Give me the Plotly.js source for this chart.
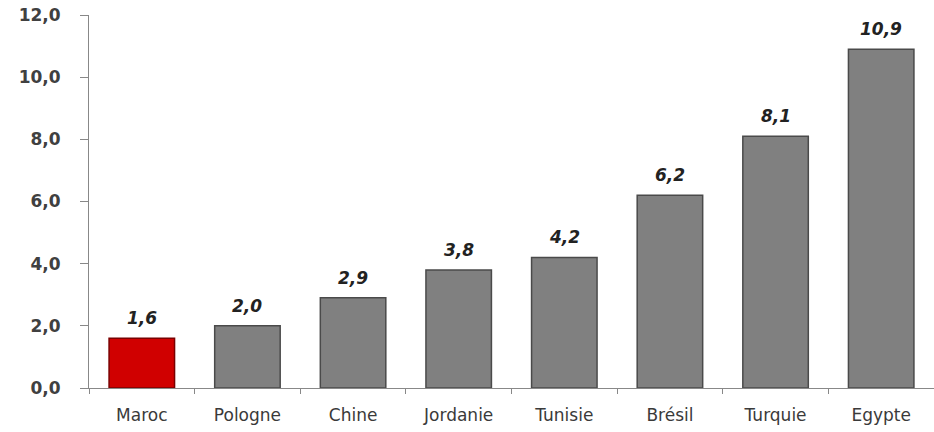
<!DOCTYPE html>
<html><head><meta charset="utf-8">
<script src="https://cdn.plot.ly/plotly-3.0.1.min.js"></script>
<style>body{margin:0;background:#fff}#c{width:934px;height:432px}</style>
</head><body><div id="c"></div>
<script>
const categories = ["Maroc","Pologne","Chine","Jordanie","Tunisie","Brésil","Turquie","Egypte"];
const values = [1.6, 2.0, 2.9, 3.8, 4.2, 6.2, 8.1, 10.9];
const labels = ["1,6","2,0","2,9","3,8","4,2","6,2","8,1","10,9"];
const yTickVals = [0,2,4,6,8,10,12];
const yTickText = ["0,0","2,0","4,0","6,0","8,0","10,0","12,0"];

const fill = categories.map((c,i)=> i===0 ? "#d00000" : "#808080");
const line = categories.map((c,i)=> i===0 ? "#7a0000" : "#4a4a4a");

const trace = {
  type: "bar", x: categories, y: values,
  marker: {color: fill, line: {color: line, width: 1.5}},
  hoverinfo: "none"
};
const annotations = categories.map((c,i)=>({
  x: c, y: values[i], xref: "x", yref: "y",
  text: "<b><i>" + labels[i] + "</i></b>",
  showarrow: false, yanchor: "bottom", yshift: 8,
  font: {family: "DejaVu Sans, Liberation Sans", size: 17, color: "#222"}
}));
const layout = {
  width: 934, height: 432,
  margin: {l: 89, r: 0, t: 15, b: 44},
  paper_bgcolor: "#fff", plot_bgcolor: "#fff",
  bargap: 0.38, showlegend: false,
  annotations: annotations,
  xaxis: {
    showline: true, linecolor: "#888", linewidth: 1,
    ticks: "outside", tickson: "boundaries", ticklen: 5, tickcolor: "#888",
    ticklabelstandoff: 12,
    tickfont: {family: "DejaVu Sans, Liberation Sans", size: 17, color: "#3a3a3a"},
    showgrid: false, zeroline: false
  },
  yaxis: {
    range: [0, 12], tickvals: yTickVals, ticktext: yTickText,
    showline: true, linecolor: "#888", linewidth: 1,
    ticks: "outside", ticklen: 8, tickcolor: "#888",
    ticklabelstandoff: 16,
    tickfont: {family: "DejaVu Sans, Liberation Sans", size: 17, color: "#404040", weight: "bold"},
    showgrid: false, zeroline: false
  }
};
Plotly.newPlot("c", [trace], layout, {displayModeBar: false, staticPlot: true});
</script></body></html>
